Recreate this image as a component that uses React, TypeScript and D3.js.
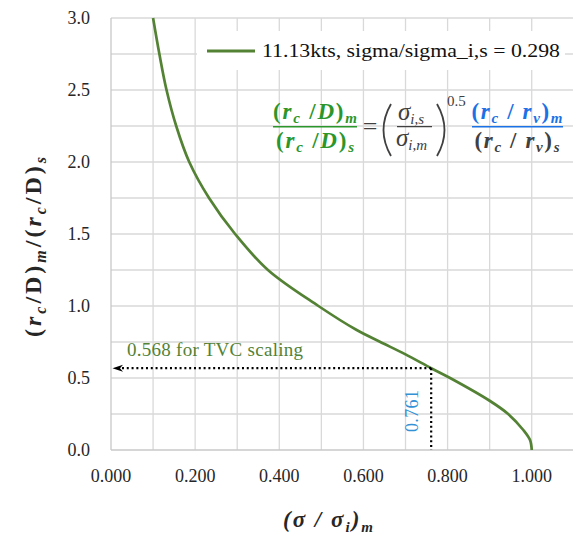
import React from "react";
import * as d3 from "d3";

const curveX = [0.1, 0.115, 0.132, 0.155, 0.186, 0.233, 0.295, 0.373, 0.493, 0.584, 0.639, 0.7, 0.761, 0.806, 0.9, 0.944, 0.98, 0.996, 1.0];
const curveY = [3.0, 2.75, 2.5, 2.25, 2.0, 1.75, 1.5, 1.25, 1.0, 0.833, 0.752, 0.664, 0.568, 0.5, 0.342, 0.25, 0.139, 0.069, 0.0];
const xTicks = [0, 0.2, 0.4, 0.6, 0.8, 1.0];
const yTicks = [0, 0.5, 1.0, 1.5, 2.0, 2.5, 3.0];
const xGrid = [0.1, 0.2, 0.3, 0.4, 0.5, 0.6, 0.7, 0.8, 0.9, 1.0];
const yGrid = [0.25, 0.5, 0.75, 1.0, 1.25, 1.5, 1.75, 2.0, 2.25, 2.5, 2.75, 3.0];
const markX = [0.761];
const markY = [0.568];
const legendLabel = "11.13kts, sigma/sigma_i,s = 0.298";
const annotLabel = "0.568 for TVC scaling";

const W = 573, H = 535;
const LINE = "#548235";
const EQ_GREEN = "#2b962b";
const EQ_BLUE = "#1a72e6";
const DARK = "#404040";
const SERIF = "Liberation Serif, DejaVu Serif, serif";
const F = { fontFamily: SERIF } as React.CSSProperties;

export default function App() {
  const x = d3.scaleLinear().domain([0, 1.1]).range([111, 573.8]);
  const y = d3.scaleLinear().domain([0, 3]).range([450, 18]);
  const pts: [number, number][] = curveX.map((v, i) => [v, curveY[i]]);
  const line = d3.line<[number, number]>().x(d => x(d[0])).y(d => y(d[1])).curve(d3.curveCatmullRom.alpha(0.5));
  const mx = x(markX[0]);
  const my = y(markY[0]);
  const sub = 15;

  return (
    <svg width={W} height={H} style={{ position: "fixed", left: 0, top: 0, background: "#fff", fontFamily: SERIF }}>
      <rect x={0} y={0} width={W} height={H} fill="#fff" />
      {xGrid.map(v => (
        <line key={"gx" + v} x1={x(v)} x2={x(v)} y1={y(0)} y2={y(3)} stroke="#d9d9d9" strokeWidth={1.3} />
      ))}
      {yGrid.map(v => (
        <line key={"gy" + v} x1={x(0)} x2={W} y1={y(v)} y2={y(v)} stroke="#d9d9d9" strokeWidth={1.3} />
      ))}
      <line x1={x(0)} x2={x(0)} y1={y(0)} y2={y(3)} stroke="#c8c8c8" strokeWidth={1.3} />
      <line x1={x(0)} x2={W} y1={y(0)} y2={y(0)} stroke="#c8c8c8" strokeWidth={1.3} />
      {xTicks.map(v => (
        <text key={"xt" + v} style={F} x={x(v)} y={482} textAnchor="middle" fontSize={18} fill="#262626">{d3.format(".3f")(v)}</text>
      ))}
      {yTicks.map(v => (
        <text key={"yt" + v} style={F} x={90} y={y(v) + 6} textAnchor="end" fontSize={18} fill="#262626">{d3.format(".1f")(v)}</text>
      ))}
      <text style={F} transform="translate(41,247) rotate(-90)" textAnchor="middle" fontSize={24} fontWeight="bold" fill="#262626" textLength={180}>
        (<tspan fontStyle="italic">r</tspan><tspan fontStyle="italic" fontSize={16} dy={5}>c</tspan><tspan dy={-5}>/D)</tspan><tspan fontStyle="italic" fontSize={16} dy={5}>m</tspan><tspan dy={-5}>/(</tspan><tspan fontStyle="italic">r</tspan><tspan fontStyle="italic" fontSize={16} dy={5}>c</tspan><tspan dy={-5}>/D)</tspan><tspan fontStyle="italic" fontSize={16} dy={5}>s</tspan>
      </text>
      <text style={F} x={328} y={527} textAnchor="middle" fontSize={23} fontWeight="bold" fontStyle="italic" fill="#262626" textLength={90}>
        (σ / σ<tspan fontSize={15} dy={5}>i</tspan><tspan dy={-5}>)</tspan><tspan fontSize={15} dy={5}>m</tspan>
      </text>
      <path d={line(pts) || ""} fill="none" stroke={LINE} strokeWidth={2.7} />
      <line x1={mx} x2={120} y1={my} y2={my} stroke="#000" strokeWidth={2.2} strokeDasharray="2 2.8" />
      <line x1={mx} x2={mx} y1={my} y2={y(0)} stroke="#000" strokeWidth={2.2} strokeDasharray="2 2.8" />
      <path d={`M${x(0) + 1.5},${my} L${x(0) + 12},${my - 3.5} L${x(0) + 9},${my} L${x(0) + 12},${my + 3.5} Z`} fill="#000" />
      <text style={F} x={127} y={356} fontSize={19} fill={LINE} textLength={176}>{annotLabel}</text>
      <text style={F} transform={`translate(418,411) rotate(-90)`} textAnchor="middle" fontSize={18} fill="#3391d6" textLength={42}>{markX[0].toFixed(3)}</text>
      <rect x={197} y={31} width={368} height={39} fill="#fff" />
      <line x1={207} x2={255} y1={51} y2={51} stroke={LINE} strokeWidth={2.8} />
      <text style={F} x={262} y={57} fontSize={19} fill="#111" textLength={298} lengthAdjust="spacingAndGlyphs">{legendLabel}</text>
      <g fontWeight="bold" fontSize={23}>
        <text style={F} x={315} y={119} textAnchor="middle" fill={EQ_GREEN} textLength={84}>
          (<tspan fontStyle="italic">r</tspan><tspan fontStyle="italic" fontSize={sub} dy={4}>c</tspan><tspan dy={-4}> /</tspan><tspan fontStyle="italic">D</tspan>)<tspan fontStyle="italic" fontSize={sub} dy={4}>m</tspan>
        </text>
        <line x1={273} x2={357} y1={126.7} y2={126.7} stroke={EQ_GREEN} strokeWidth={1.6} />
        <text style={F} x={315} y={148} textAnchor="middle" fill={EQ_GREEN} textLength={78}>
          (<tspan fontStyle="italic">r</tspan><tspan fontStyle="italic" fontSize={sub} dy={4}>c</tspan><tspan dy={-4}> /</tspan><tspan fontStyle="italic">D</tspan>)<tspan fontStyle="italic" fontSize={sub} dy={4}>s</tspan>
        </text>
        <text style={F} x={517} y={119} textAnchor="middle" fill={EQ_BLUE} textLength={91}>
          (<tspan fontStyle="italic">r</tspan><tspan fontStyle="italic" fontSize={sub} dy={4}>c</tspan><tspan dy={-4}> / </tspan><tspan fontStyle="italic">r</tspan><tspan fontStyle="italic" fontSize={sub} dy={4}>v</tspan><tspan dy={-4}>)</tspan><tspan fontStyle="italic" fontSize={sub} dy={4}>m</tspan>
        </text>
        <line x1={472} x2={563} y1={126.7} y2={126.7} stroke={EQ_BLUE} strokeWidth={1.6} />
        <text style={F} x={517} y={148} textAnchor="middle" fill={DARK} textLength={85}>
          (<tspan fontStyle="italic">r</tspan><tspan fontStyle="italic" fontSize={sub} dy={4}>c</tspan><tspan dy={-4}> / </tspan><tspan fontStyle="italic">r</tspan><tspan fontStyle="italic" fontSize={sub} dy={4}>v</tspan><tspan dy={-4}>)</tspan><tspan fontStyle="italic" fontSize={sub} dy={4}>s</tspan>
        </text>
      </g>
      <text style={F} x={370} y={135} textAnchor="middle" fontSize={26} fill={DARK}>=</text>
      <path d="M391,104 Q376,130 391,156" fill="none" stroke={DARK} strokeWidth={1.8} />
      <path d="M437,104 Q452,130 437,156" fill="none" stroke={DARK} strokeWidth={1.8} />
      <text style={F} x={398} y={120} fontSize={25} fontStyle="italic" fill={DARK}>σ<tspan fontSize={15} dy={4}>i,s</tspan></text>
      <line x1={397} x2={432} y1={126.7} y2={126.7} stroke={DARK} strokeWidth={1.3} />
      <text style={F} x={396} y={146} fontSize={25} fontStyle="italic" fill={DARK}>σ<tspan fontSize={15} dy={4}>i,m</tspan></text>
      <text style={F} x={447} y={106} fontSize={15} fill={DARK}>0.5</text>
    </svg>
  );
}
